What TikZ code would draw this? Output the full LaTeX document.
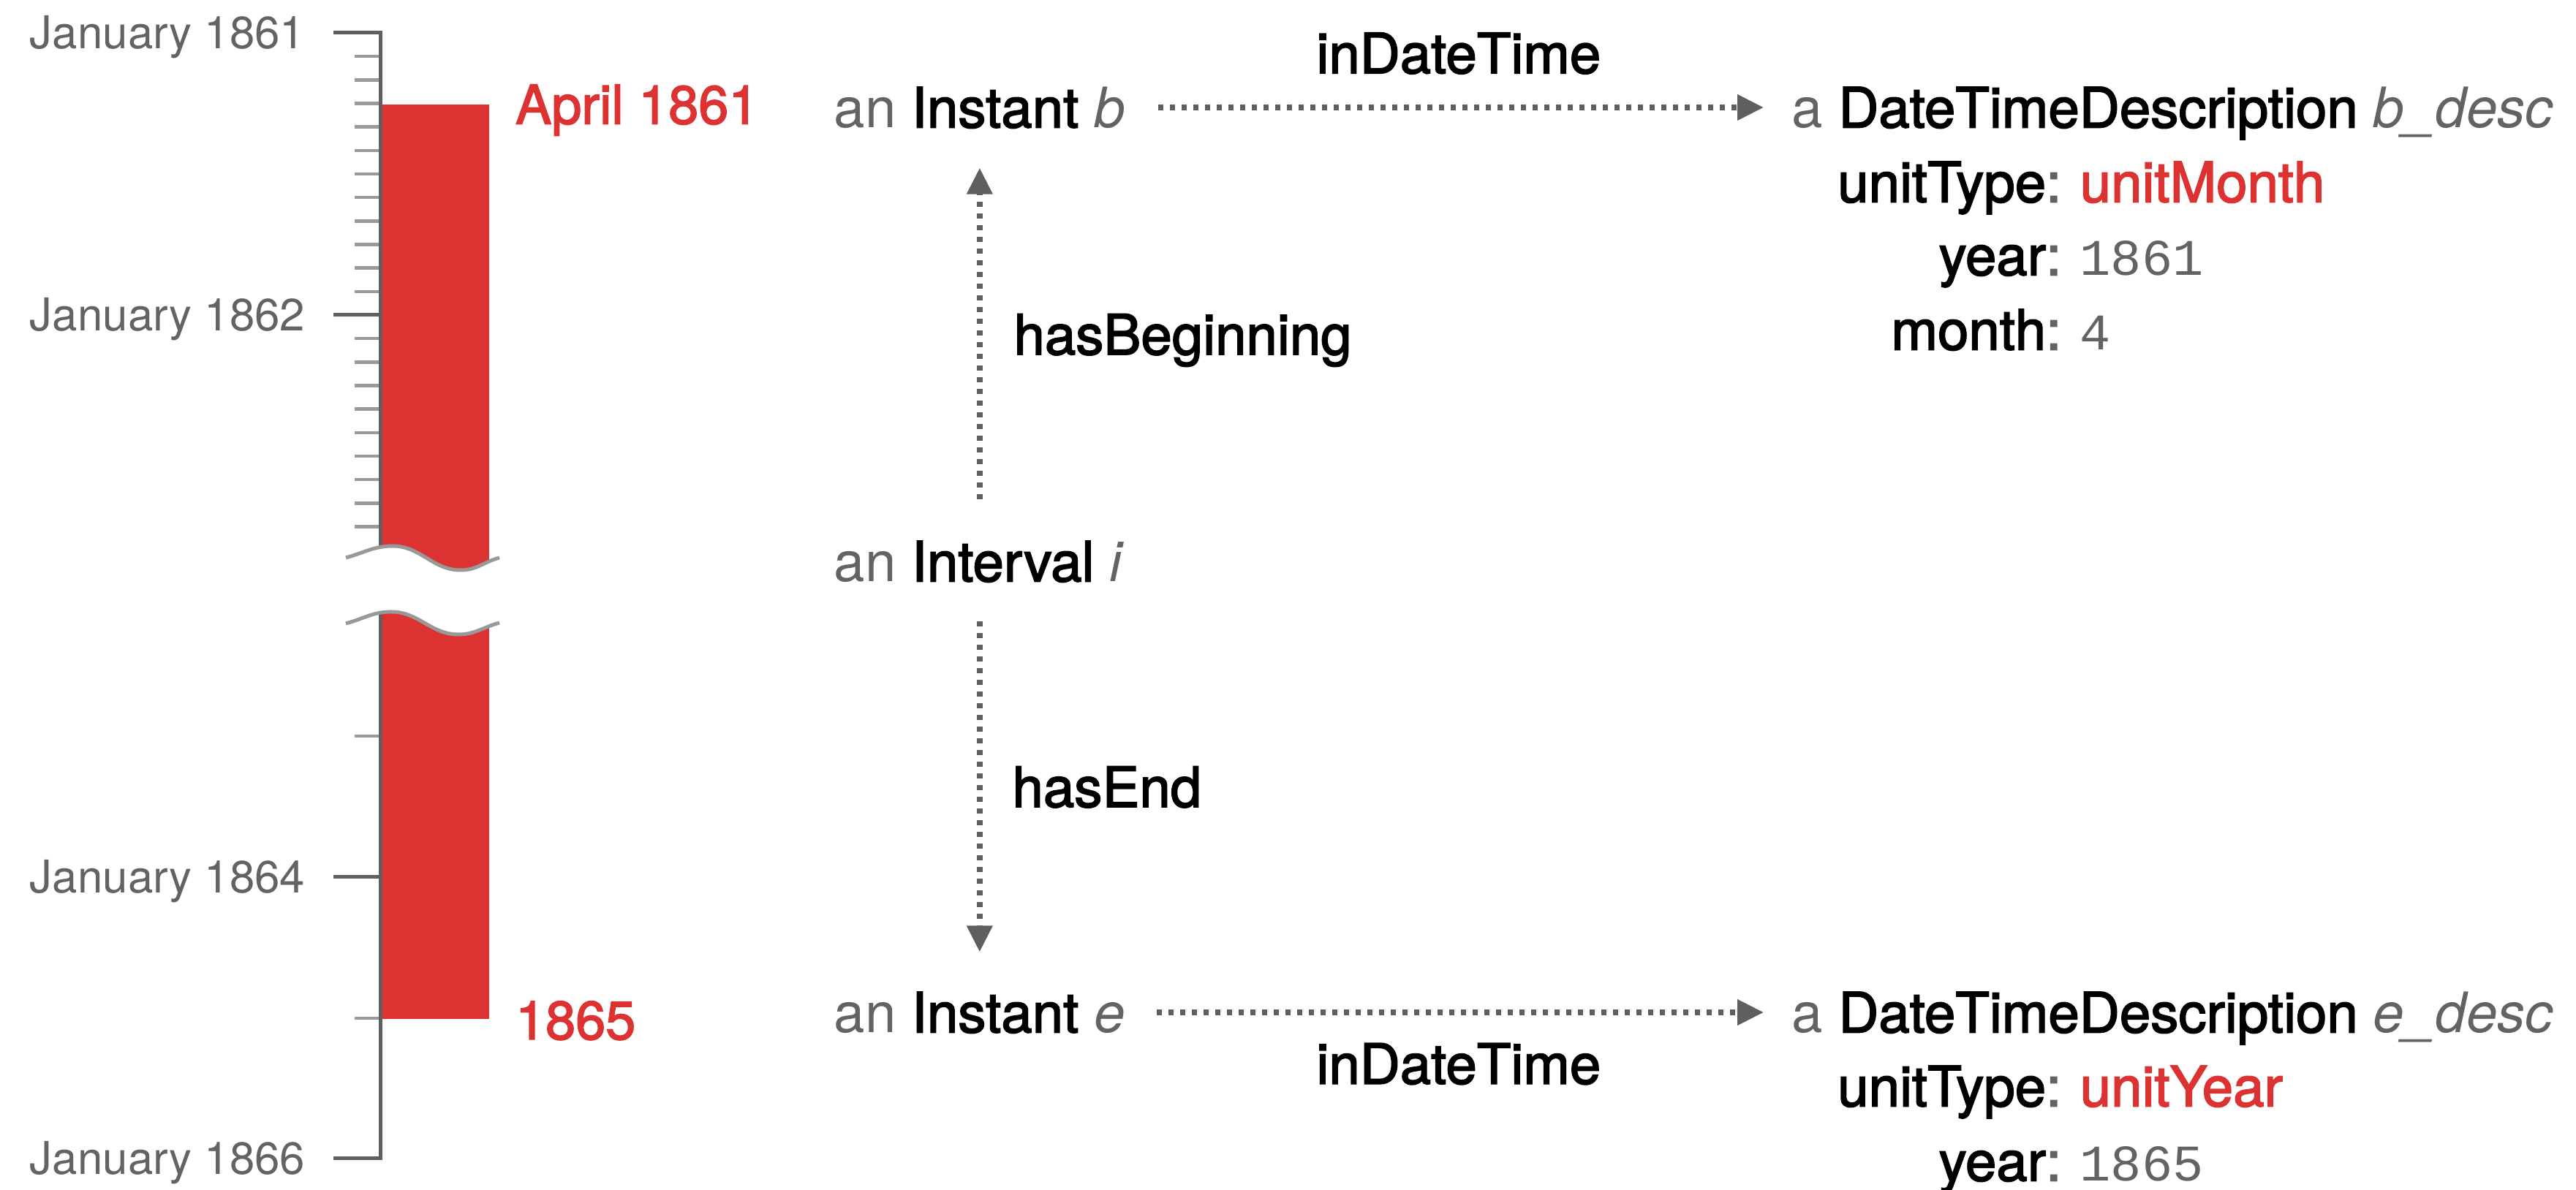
\documentclass[tikz,border=0pt]{standalone}
\usepackage{fontspec}
\setmainfont{TeX Gyre Heros}
\newfontfamily\medfont[FakeBold=2.2]{TeX Gyre Heros}
\newfontfamily\numfont{Liberation Mono}
\usepackage{tikz}
\usetikzlibrary{arrows.meta, positioning}

\definecolor{timered}{HTML}{DC3232}
\definecolor{labelgray}{HTML}{636363}
\definecolor{axisgray}{HTML}{5F5F5F}
\definecolor{tickgray}{HTML}{999999}

\newcommand{\lite}[1]{{\normalfont\color{labelgray}#1}}

\tikzset{
    term/.style={inner sep=0pt, text height=0.55cm, text depth=0pt, font=\medfont\fontsize{21.7pt}{26pt}\selectfont},
    datelabel/.style={inner sep=0pt, text height=0.44cm, text depth=0pt, text=labelgray, font=\fontsize{17.6pt}{21pt}\selectfont},
    redlabel/.style={term, text=timered, font=\medfont\fontsize{21pt}{25pt}\selectfont},
    numval/.style={term, text=labelgray, font=\numfont\fontsize{20pt}{24pt}\selectfont},
    rel/.style={draw=axisgray, line width=0.075cm, dash pattern=on 0.07cm off 0.09cm, ->},
    major/.style={draw=axisgray, line width=0.05cm, line cap=rect},
    minor/.style={draw=tickgray, line width=0.045cm},
    >={Triangle[length=0.36cm, width=0.34cm]}
}

\begin{document}
\begin{tikzpicture}
    \useasboundingbox (0,0) rectangle (35.23,16.28);

    \node[fill=timered, inner sep=0pt, minimum width=1.48cm, minimum height=12.51cm, anchor=north west] (bar) at (5.20,14.86) {};

    \foreach \k in {1,...,11,13,14,...,21}
        \draw[minor] (4.85,15.83-0.3217*\k) -- (5.20,15.83-0.3217*\k);
    \draw[minor] (4.85,6.21) -- (5.20,6.21);
    \draw[minor] (4.85,2.35) -- (5.20,2.35);

    \coordinate (t61) at (4.58,15.83);
    \coordinate (t62) at (4.58,11.97);
    \coordinate (t64) at (4.58,4.28);
    \coordinate (t66) at (4.58,0.43);
    \draw[major] (5.20,15.83) -- (5.20,0.43);
    \foreach \t in {t61,t62,t64,t66}
        \draw[major] (\t) -- ++(0.62,0);

    \node[datelabel, left=0.40cm of t61] (jan61) {January 1861};
    \node[datelabel, left=0.40cm of t62] (jan62) {January 1862};
    \node[datelabel, left=0.40cm of t64] (jan64) {January 1864};
    \node[datelabel, left=0.40cm of t66] (jan66) {January 1866};

    \fill[white] (4.73,8.65) to[out=15,in=180] (5.37,8.81) to[out=0,in=180] (6.30,8.48) to[out=0,in=195] (6.83,8.65)
        -- (6.83,7.76) to[out=195,in=0] (6.27,7.60) to[out=180,in=0] (5.35,7.91) to[out=180,in=15] (4.73,7.75) -- cycle;
    \draw[minor, line width=0.05cm] (4.73,8.65) to[out=15,in=180] (5.37,8.81) to[out=0,in=180] (6.30,8.48) to[out=0,in=195] (6.83,8.65);
    \draw[minor, line width=0.05cm] (4.73,7.75) to[out=15,in=180] (5.35,7.91) to[out=0,in=180] (6.27,7.60) to[out=0,in=195] (6.83,7.76);

    \node[redlabel, right=0.35cm of bar.north east] (start) {April 1861};
    \node[redlabel, right=0.35cm of bar.south east] (end) {1865};

    \node[term, anchor=west] (ib) at (11.40,14.81) {\lite{an} Instant \lite{\itshape b}};
    \node[term, anchor=west] (ii) at (11.40,8.60) {\lite{an} Interval \lite{\itshape i}};
    \node[term, anchor=west] (ie) at (11.40,2.43) {\lite{an} Instant \lite{\itshape e}};
    \node[term, anchor=west] (bd) at (24.50,14.81) {\lite{a} DateTimeDescription \lite{\itshape b\_desc}};
    \node[term, anchor=west] (ed) at (24.50,2.43) {\lite{a} DateTimeDescription \lite{\itshape e\_desc}};

    \node[term, anchor=east] (bunit) at (28.20,13.79) {unitType{\color{labelgray}:}};
    \node[term, anchor=east] (byear) at (28.20,12.79) {year{\color{labelgray}:}};
    \node[term, anchor=east] (bmonth) at (28.20,11.77) {month{\color{labelgray}:}};
    \node[term, text=timered, right=0.24cm of bunit] (bunitval) {unitMonth};
    \node[numval, right=0.24cm of byear] (byearval) {1861};
    \node[numval, right=0.24cm of bmonth] (bmonthval) {4};

    \node[term, anchor=east] (eunit) at (28.20,1.42) {unitType{\color{labelgray}:}};
    \node[term, anchor=east] (eyear) at (28.20,0.40) {year{\color{labelgray}:}};
    \node[term, text=timered, right=0.24cm of eunit] (eunitval) {unitYear};
    \node[numval, right=0.24cm of eyear] (eyearval) {1865};

    \draw
    (ib) edge[rel, shorten <=0.44cm, shorten >=0.38cm] node[term, above=0.43cm] {inDateTime} (bd)
    (ie) edge[rel, shorten <=0.42cm, shorten >=0.38cm] node[term, below=0.39cm] {inDateTime} (ed)
    (ii.north -| ib.south) edge[rel, shorten <=0.57cm, shorten >=0.545cm] node[term, right=0.43cm] {hasBeginning} (ib.south)
    (ii.south -| ie.north) edge[rel, shorten <=0.535cm, shorten >=0.545cm] node[term, right=0.41cm] {hasEnd} (ie.north);
\end{tikzpicture}
\end{document}
